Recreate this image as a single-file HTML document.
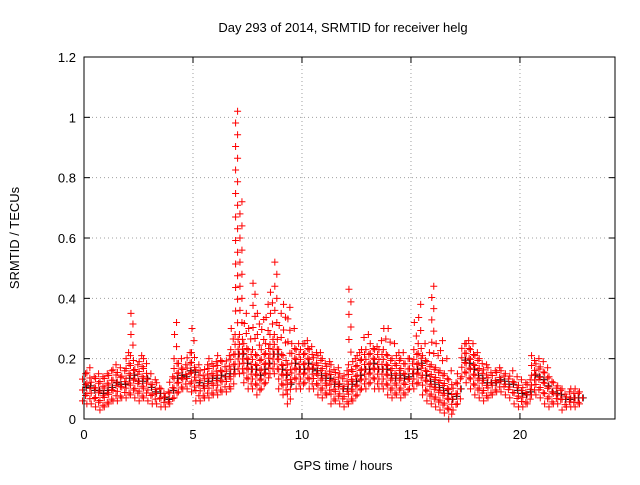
<!DOCTYPE html>
<html><head><meta charset="utf-8"><style>
body{margin:0;background:#fff}
svg text{font-family:"Liberation Sans",sans-serif;font-size:13px;fill:#000}
</style></head><body>
<svg id="chart" width="640" height="480" xmlns="http://www.w3.org/2000/svg">
<rect width="640" height="480" fill="#fff"/>
<text x="343" y="32" text-anchor="middle">Day 293 of 2014, SRMTID for receiver helg</text>
<text x="343" y="470" text-anchor="middle">GPS time / hours</text>
<text transform="translate(19,238) rotate(-90)" text-anchor="middle">SRMTID / TECUs</text>
<g id="grid"></g><g id="ticks"></g><g id="marks"></g>
<rect x="84" y="57" width="531" height="362" fill="none" stroke="#000" stroke-width="1"/>
</svg>
<script>
const xTicks=[0,5,10,15,20];
const yTicks=[0,0.2,0.4,0.6,0.8,1,1.2];
const yTickLabels=["0","0.2","0.4","0.6","0.8","1","1.2"];
const binStart=0, binStep=0.2;
const lowVals=[.06,.05,.05,.04,.03,.04,.05,.06,.06,.07,.07,.08,.07,.06,.07,.06,.05,.05,.04,.04,.05,.07,.09,.10,.10,.09,.06,.06,.07,.07,.08,.08,.09,.09,.10,.15,.15,.12,.10,.10,.08,.10,.12,.15,.15,.10,.08,.05,.12,.10,.10,.12,.10,.10,.08,.07,.08,.05,.06,.05,.04,.05,.06,.08,.10,.10,.12,.10,.10,.10,.08,.07,.08,.07,.08,.10,.10,.12,.08,.06,.05,.04,.03,.02,.00,.03,.05,.14,.12,.10,.08,.07,.06,.07,.08,.09,.09,.08,.07,.05,.04,.04,.05,.08,.08,.07,.05,.04,.05,.05,.03,.04,.04,.04,.05];
const highVals=[.15,.17,.14,.15,.14,.15,.16,.18,.17,.16,.22,.35,.18,.21,.20,.15,.13,.12,.10,.09,.14,.32,.20,.18,.22,.30,.18,.16,.18,.20,.19,.21,.19,.21,.30,1.02,.72,.35,.30,.45,.35,.33,.38,.42,.52,.35,.38,.37,.30,.25,.25,.26,.24,.22,.22,.20,.19,.18,.17,.15,.16,.43,.20,.22,.27,.28,.25,.24,.26,.30,.30,.25,.22,.22,.20,.20,.32,.38,.25,.22,.44,.25,.26,.20,.16,.12,.15,.25,.26,.25,.22,.20,.18,.17,.16,.17,.16,.15,.16,.14,.13,.12,.13,.21,.20,.19,.17,.14,.12,.11,.10,.09,.10,.10,.09];
const X0=84,X1=615,XMAX=24.36,Y0=419,Y1=57,YMAX=1.2;
const xs=v=>X0+(X1-X0)*v/XMAX, ys=v=>Y0-(Y0-Y1)*v/YMAX;
const NS="http://www.w3.org/2000/svg";
function mk(tag,attrs,parent){const e=document.createElementNS(NS,tag);for(const k in attrs)e.setAttribute(k,attrs[k]);parent.appendChild(e);return e;}
const grid=document.getElementById('grid'),ticks=document.getElementById('ticks'),marks=document.getElementById('marks');
xTicks.forEach((t,i)=>{const x=xs(t);
 if(i>0){const g=mk('line',{x1:x,x2:x,y1:Y1,y2:Y0,stroke:'#a0a0a0','stroke-dasharray':'1,3'},grid);
 
 }
 mk('line',{x1:x,x2:x,y1:Y0,y2:Y0-6,stroke:'#000'},ticks);mk('line',{x1:x,x2:x,y1:Y1,y2:Y1+6,stroke:'#000'},ticks);
 const l=mk('text',{x:x,y:Y0+20,'text-anchor':'middle'},ticks);l.textContent=t;
 
 });
yTicks.forEach((t,i)=>{const y=ys(t);
 if(i>0&&i<yTicks.length-1){const g=mk('line',{x1:X0,x2:X1,y1:y,y2:y,stroke:'#a0a0a0','stroke-dasharray':'1,3'},grid);
 
 }
 mk('line',{x1:X0,x2:X0+6,y1:y,y2:y,stroke:'#000'},ticks);mk('line',{x1:X1,x2:X1-6,y1:y,y2:y,stroke:'#000'},ticks);
 const l=mk('text',{x:X0-8,y:y+5,'text-anchor':'end'},ticks);l.textContent=yTickLabels[i];
 
 });
function plus(x,y,c){const p=mk('path',{d:`M${x-3.5},${y}h7M${x},${y-3.5}v7`,stroke:c,'stroke-width':1,fill:'none'},marks);
 
 }
lowVals.forEach((lo,i)=>{const hi=highVals[i],t=binStart+i*binStep;
 const cap=Math.min(hi,lo+0.13);
 const yl=ys(lo),yc=ys(cap),yh=ys(hi);
 const n=Math.max(2,Math.round((yl-yc)/5));
 plus(xs(t+0.1),ys((lo+cap)/2),'#000');
 for(let k=0;k<=n;k++){const y=yl-(yl-yc)*k/n;const dx=(k%2?1:-1)*1.5;plus(xs(t)+dx,y,'#f00');}
 if(hi>cap){const m=Math.max(1,Math.round((yc-yh)/12));
  for(let k=1;k<=m;k++){const y=yc-(yc-yh)*k/m;plus(xs(t)+(k%2?1:-1),y,'#f00');}}
});
</script>
</body></html>
